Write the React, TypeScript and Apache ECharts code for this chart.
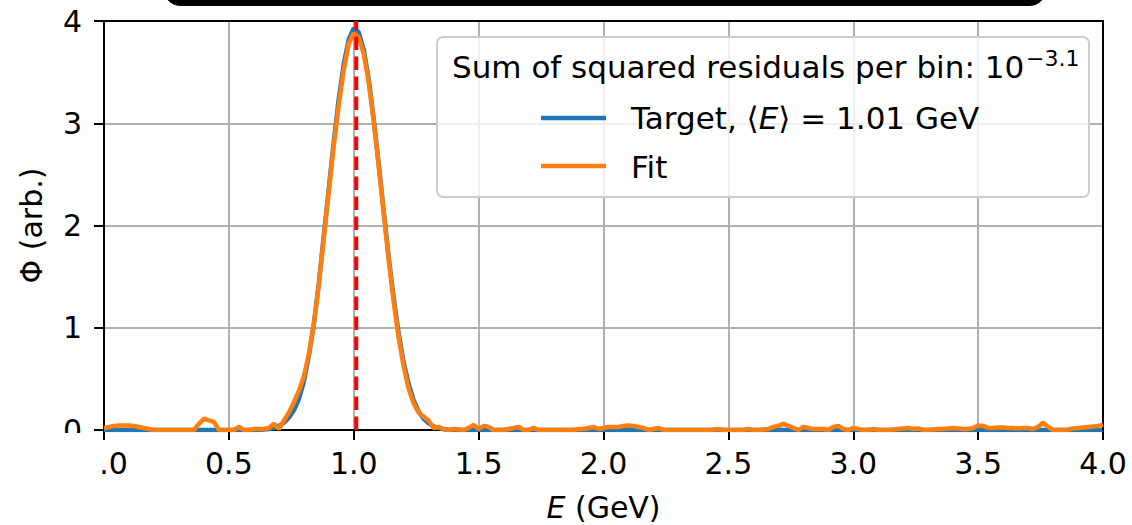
import React, { useEffect, useRef } from "react";
import * as echarts from "echarts";

// Energy bins (GeV): 0.00 .. 4.00, step 0.02
const ENERGY_STEP = 0.02;
const MEAN_ENERGY = 1.01; // <E> of the target, GeV

// Target spectrum Φ (arb.), one value per bin, 10 bins per row
const targetFlux = [
  0, 0, 0, 0, 0, 0, 0, 0, 0, 0, // 0.00
  0, 0, 0, 0, 0, 0, 0, 0, 0, 0, // 0.20
  0, 0, 0, 0, 0, 0, 0, 0, 0, 0, // 0.40
  0, 0, 0.005, 0.01, 0.02, 0.04, 0.07, 0.12, 0.19, 0.3, // 0.60
  0.47, 0.72, 1.03, 1.43, 1.9, 2.36, 2.82, 3.24, 3.58, 3.82, // 0.80
  3.93, 3.89, 3.72, 3.43, 3.04, 2.6, 2.14, 1.69, 1.29, 0.94, // 1.00
  0.66, 0.45, 0.29, 0.18, 0.11, 0.065, 0.035, 0.018, 0.008, 0.003, // 1.20
  0, 0, 0, 0, 0, 0, 0, 0, 0, 0, // 1.40
  0, 0, 0, 0, 0, 0, 0, 0, 0, 0, // 1.60
  0, 0, 0, 0, 0, 0, 0, 0, 0, 0, // 1.80
  0, 0, 0, 0, 0, 0, 0, 0, 0, 0, // 2.00
  0, 0, 0, 0, 0, 0, 0, 0, 0, 0, // 2.20
  0, 0, 0, 0, 0, 0, 0, 0, 0, 0, // 2.40
  0, 0, 0, 0, 0, 0, 0, 0, 0, 0, // 2.60
  0, 0, 0, 0, 0, 0, 0, 0, 0, 0, // 2.80
  0, 0, 0, 0, 0, 0, 0, 0, 0, 0, // 3.00
  0, 0, 0, 0, 0, 0, 0, 0, 0, 0, // 3.20
  0, 0, 0, 0, 0, 0, 0, 0, 0, 0, // 3.40
  0, 0, 0, 0, 0, 0, 0, 0, 0, 0, // 3.60
  0, 0, 0, 0, 0, 0, 0, 0, 0, 0, // 3.80
  0, // 4.00
];

// Fitted spectrum Φ (arb.), same bins
const fitFlux = [
  0.02, 0.03, 0.04, 0.045, 0.045, 0.045, 0.04, 0.03, 0.02, 0.01, // 0.00
  0, 0, 0, 0, 0, 0, 0, 0, 0, 0.06, // 0.20
  0.11, 0.095, 0.08, 0, 0, 0, 0, 0.03, 0, 0, // 0.40
  0.01, 0.01, 0.01, 0.02, 0.06, 0.01, 0.09, 0.17, 0.27, 0.38, // 0.60
  0.52, 0.74, 1.03, 1.42, 1.88, 2.33, 2.78, 3.18, 3.52, 3.78, // 0.80
  3.88, 3.84, 3.68, 3.4, 3.02, 2.58, 2.12, 1.66, 1.25, 0.9, // 1.00
  0.62, 0.4, 0.26, 0.17, 0.13, 0.09, 0.02, 0.03, 0.01, 0, // 1.20
  0.01, 0.005, 0, 0.02, 0.05, 0.01, 0.04, 0.03, 0, 0, // 1.40
  0, 0.01, 0.02, 0.03, 0, 0, 0.02, 0, 0, 0, // 1.60
  0, 0, 0, 0, 0, 0.01, 0.01, 0.02, 0.03, 0.01, // 1.80
  0.02, 0.03, 0.03, 0.03, 0.04, 0.045, 0.04, 0.03, 0.02, 0, // 2.00
  0.01, 0.02, 0, 0, 0, 0, 0, 0, 0, 0, // 2.20
  0, 0, 0.005, 0.01, 0, 0, 0, 0, 0, 0.01, // 2.40
  0, 0, 0.005, 0.01, 0.03, 0.04, 0.06, 0.04, 0.02, 0, // 2.60
  0.03, 0.02, 0.01, 0.01, 0.01, 0, 0.03, 0.04, 0.01, 0, // 2.80
  0.02, 0.01, 0, 0, 0.01, 0, 0, 0, 0.005, 0.01, // 3.00
  0.015, 0.02, 0.01, 0.015, 0, 0, 0.005, 0.01, 0.01, 0.015, // 3.20
  0.02, 0.015, 0.01, 0.01, 0.02, 0.045, 0.04, 0.02, 0.02, 0.025, // 3.40
  0.025, 0.02, 0.02, 0.015, 0.02, 0.02, 0.01, 0.03, 0.07, 0.03, // 3.60
  0, 0, 0, 0.005, 0.015, 0.02, 0.025, 0.03, 0.035, 0.04, // 3.80
  0.05, // 4.00
];

const X_MIN = 0, X_MAX = 4, X_STEP = 0.5;
const Y_MIN = 0, Y_MAX = 4, Y_STEP = 1;

const LEGEND_TITLE = "Sum of squared residuals per bin: 10";
const LEGEND_TITLE_EXP = "\u22123.1";
const TARGET_LABEL = ["Target, \u27E8", "E", "\u27E9 = 1.01 GeV"];
const FIT_LABEL = "Fit";

const FONT = "DejaVu Sans";
const BLUE = "#1f77b4";
const ORANGE = "#ff7f0e";
const GRID_GRAY = "#b0b0b0";
const LEGEND_FONT = 31;

const toPairs = (arr: number[]) =>
  arr.map((v, i) => [Number((i * ENERGY_STEP).toFixed(2)), v]);

function measure(text: string, font: string): number {
  const ctx = document.createElement("canvas").getContext("2d");
  if (!ctx) return text.length * 16;
  ctx.font = font;
  return ctx.measureText(text).width;
}

export default function App() {
  const ref = useRef<HTMLDivElement>(null);

  useEffect(() => {
    if (!ref.current) return;
    const chart = echarts.init(ref.current, undefined, { renderer: "svg" });

    const axisLineStyle = { color: "#000", width: 2 };
    const labelStyle = { fontSize: 30, color: "#000", fontFamily: FONT };

    const titleX = 452;
    const titleW = measure(LEGEND_TITLE, `${LEGEND_FONT}px "${FONT}"`);

    const option: any = {
      animation: false,
      textStyle: { fontFamily: FONT },
      grid: {
        left: 104,
        right: 29,
        top: 21,
        bottom: 95,
        containLabel: false,
        outerBoundsMode: "none",
      },
      xAxis: [
        {
          type: "value",
          position: "bottom",
          min: X_MIN,
          max: X_MAX,
          interval: X_STEP,
          axisLine: { show: true, onZero: false, lineStyle: axisLineStyle },
          axisTick: { show: true, inside: false, length: 10, lineStyle: axisLineStyle },
          axisLabel: {
            ...labelStyle,
            margin: 18,
            formatter: (v: number) => v.toFixed(1),
          },
          splitLine: {
            show: true,
            showMinLine: false,
            showMaxLine: false,
            lineStyle: { color: GRID_GRAY, width: 2 },
          },
          name: "{i|E} (GeV)",
          nameLocation: "middle",
          nameGap: 62,
          nameTextStyle: {
            ...labelStyle,
            rich: { i: { ...labelStyle, fontStyle: "italic" } },
          },
        },
        {
          type: "value",
          position: "top",
          min: X_MIN,
          max: X_MAX,
          axisLine: { show: true, onZero: false, lineStyle: axisLineStyle },
          axisTick: { show: false },
          axisLabel: { show: false },
          splitLine: { show: false },
          z: 3,
        },
      ],
      yAxis: [
        {
          type: "value",
          position: "left",
          min: Y_MIN,
          max: Y_MAX,
          interval: Y_STEP,
          axisLine: { show: true, onZero: false, lineStyle: axisLineStyle },
          axisTick: { show: true, inside: false, length: 10, lineStyle: axisLineStyle },
          axisLabel: { ...labelStyle, margin: 22 },
          splitLine: {
            show: true,
            showMinLine: false,
            showMaxLine: false,
            lineStyle: { color: GRID_GRAY, width: 2 },
          },
          name: "\u03A6 (arb.)",
          nameLocation: "middle",
          nameRotate: 90,
          nameGap: 58,
          nameTextStyle: labelStyle,
        },
        {
          type: "value",
          position: "right",
          min: Y_MIN,
          max: Y_MAX,
          axisLine: { show: true, onZero: false, lineStyle: axisLineStyle },
          axisTick: { show: false },
          axisLabel: { show: false },
          splitLine: { show: false },
          z: 3,
        },
      ],
      series: [
        {
          name: "Target",
          type: "line",
          xAxisIndex: 0,
          yAxisIndex: 0,
          data: toPairs(targetFlux),
          showSymbol: false,
          symbol: "none",
          clip: true,
          lineStyle: { color: BLUE, width: 4.5 },
          z: 2,
        },
        {
          name: "Fit",
          type: "line",
          xAxisIndex: 0,
          yAxisIndex: 0,
          data: toPairs(fitFlux),
          showSymbol: false,
          symbol: "none",
          clip: true,
          lineStyle: { color: ORANGE, width: 4.5 },
          z: 3,
        },
        {
          name: "Mean",
          type: "line",
          xAxisIndex: 0,
          yAxisIndex: 0,
          data: [
            [MEAN_ENERGY, Y_MIN],
            [MEAN_ENERGY, Y_MAX],
          ],
          showSymbol: false,
          symbol: "none",
          clip: true,
          lineStyle: { color: "#ff0000", width: 4, type: [13.5, 6.5] },
          z: 4,
        },
      ],
      graphic: [
        // cropped black rounded banner at the very top
        {
          type: "rect",
          z: 100,
          shape: { x: 163, y: -30, width: 884, height: 36, r: 20 },
          style: { fill: "#000" },
        },
        // cropped area at the lower-left corner
        {
          type: "rect",
          z: 100,
          shape: { x: 0, y: 433, width: 100, height: 92 },
          style: { fill: "#fff" },
        },
        // legend frame
        {
          type: "rect",
          z: 50,
          shape: { x: 437, y: 37, width: 652, height: 160, r: 6 },
          style: { fill: "rgba(255,255,255,0.8)", stroke: "#cccccc", lineWidth: 2 },
        },
        {
          type: "text",
          z: 51,
          x: titleX,
          y: 67,
          style: {
            text: LEGEND_TITLE,
            fontSize: LEGEND_FONT,
            fontFamily: FONT,
            fill: "#000",
            verticalAlign: "middle",
            align: "left",
          },
        },
        {
          type: "text",
          z: 51,
          x: titleX + titleW + 2,
          y: 58,
          style: {
            text: LEGEND_TITLE_EXP,
            fontSize: 22,
            fontFamily: FONT,
            fill: "#000",
            verticalAlign: "middle",
            align: "left",
          },
        },
        {
          type: "line",
          z: 51,
          shape: { x1: 541, y1: 118, x2: 606, y2: 118 },
          style: { stroke: BLUE, lineWidth: 4.5 },
        },
        {
          type: "text",
          z: 51,
          x: 631,
          y: 118,
          style: {
            text: `{n|${TARGET_LABEL[0]}}{i|${TARGET_LABEL[1]}}{n|${TARGET_LABEL[2]}}`,
            verticalAlign: "middle",
            align: "left",
            rich: {
              n: { fontSize: LEGEND_FONT, fontFamily: FONT, fill: "#000", color: "#000" },
              i: {
                fontSize: LEGEND_FONT,
                fontFamily: FONT,
                fontStyle: "italic",
                fill: "#000",
                color: "#000",
              },
            },
          },
        },
        {
          type: "line",
          z: 51,
          shape: { x1: 541, y1: 166, x2: 606, y2: 166 },
          style: { stroke: ORANGE, lineWidth: 4.5 },
        },
        {
          type: "text",
          z: 51,
          x: 631,
          y: 167,
          style: {
            text: FIT_LABEL,
            fontSize: LEGEND_FONT,
            fontFamily: FONT,
            fill: "#000",
            verticalAlign: "middle",
            align: "left",
          },
        },
      ],
    };

    chart.setOption(option);
    return () => chart.dispose();
  }, []);

  return (
    <div
      ref={ref}
      style={{ position: "fixed", left: 0, top: 0, width: 1132, height: 525, background: "#fff" }}
    />
  );
}
